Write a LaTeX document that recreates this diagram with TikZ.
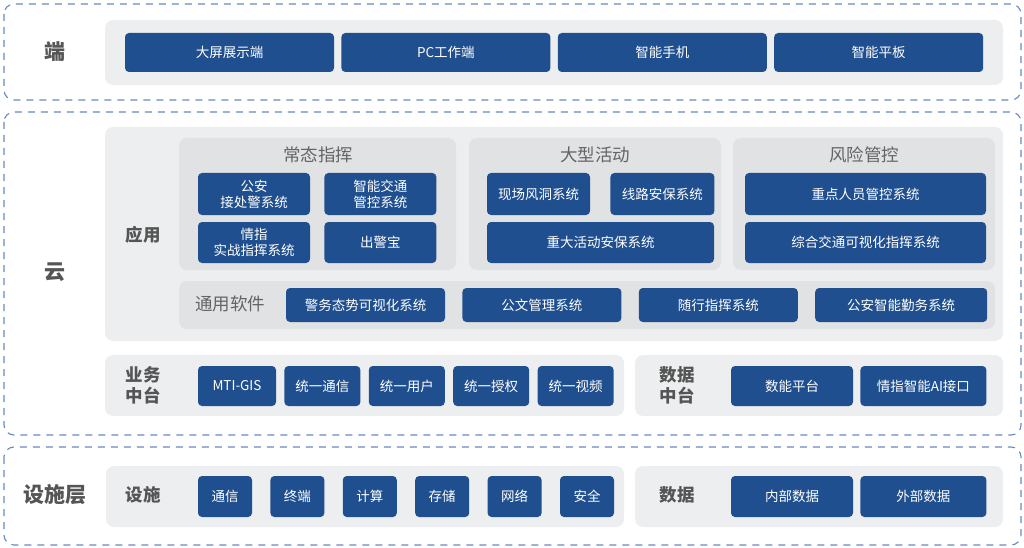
\documentclass[tikz,border=0pt]{standalone}
\usepackage{fontspec}
\setmainfont{Noto Sans CJK SC}
\usepackage{tikz}
\usetikzlibrary{positioning}
\definecolor{boxblue}{RGB}{31,79,143}
\definecolor{panelgray}{RGB}{236,238,240}
\definecolor{subgray}{RGB}{225,226,228}
\definecolor{frameblue}{RGB}{104,136,194}
\definecolor{labelgray}{RGB}{85,85,85}
\definecolor{titlegray}{RGB}{100,100,100}

\begin{document}
\begin{tikzpicture}[
    x=1pt, y=-1pt,
    box/.style={
        rectangle, rounded corners=4pt, fill=boxblue, text=white,
        inner sep=0pt, minimum height=40pt, align=center,
        font=\fontsize{13.5}{16}\selectfont
    },
    panel/.style={fill=panelgray, rounded corners=8pt},
    subpanel/.style={fill=subgray, rounded corners=8pt},
    frame/.style={
        draw=frameblue, dash pattern=on 7pt off 6pt, line width=1.1pt, rounded corners=10pt
    },
    layer/.style={text=labelgray, font=\fontsize{21}{24}\selectfont\bfseries},
    tag/.style={text=labelgray, align=center, font=\fontsize{17.5}{21}\selectfont\bfseries},
    title/.style={text=titlegray, font=\fontsize{17.5}{21}\selectfont}
]
\useasboundingbox (0,0) rectangle (1024,548);

% Dashed layer frames
\draw[frame] (4,4) rectangle (1021,100);
\draw[frame] (4,112) rectangle (1021,435);
\draw[frame] (4,447) rectangle (1021,545);

% Gray panels
\fill[panel] (105,20) rectangle (1003,85);
\fill[panel] (105,127) rectangle (1003,341);
\fill[subpanel] (179,138) rectangle (456,270);
\fill[subpanel] (469,138) rectangle (721,270);
\fill[subpanel] (733,138) rectangle (995,270);
\fill[subpanel] (179,281) rectangle (995,329);
\fill[panel] (105,355) rectangle (624,416);
\fill[panel] (635,355) rectangle (1003,416);
\fill[panel] (106,466) rectangle (624,527);
\fill[panel] (635,466) rectangle (1003,527);

% Layer labels
\node[layer] (duan) at (55,52) {端};
\node[layer] (yun) at (55,272) {云};
\node[layer] (sheshiceng) at (55,495) {设施层};

% Top level
\node[box, minimum width=209pt, minimum height=39pt] (daping) at (229.5,52.5) {大屏展示端};
\node[box, minimum width=209pt, minimum height=39pt, right=7pt of daping] (pcduan) {PC工作端};
\node[box, minimum width=209pt, minimum height=39pt, right=7pt of pcduan] (shouji) {智能手机};
\node[box, minimum width=209pt, minimum height=39pt, right=7pt of shouji] (pingban) {智能平板};

% Application panel
\node[tag] (yingyong) at (143,235) {应用};
\node[title] (changtai) at (318,155) {常态指挥};
\node[title] (dahuodong) at (595,155) {大型活动};
\node[title] (fengxian) at (864,155) {风险管控};

\node[box, minimum width=112pt, minimum height=42pt] (jiechujing) at (254,194) {公安\\接处警系统};
\node[box, minimum width=112pt, minimum height=42pt, right=14pt of jiechujing] (jiaotong) {智能交通\\管控系统};
\node[box, minimum width=112pt, minimum height=41pt] (qingzhi) at (254,242.5) {情指\\实战指挥系统};
\node[box, minimum width=112pt, minimum height=41pt, right=14pt of qingzhi] (chujingbao) {出警宝};

\node[box, minimum width=103pt, minimum height=42pt] (fengdong) at (538.5,194) {现场风洞系统};
\node[box, minimum width=104pt, minimum height=42pt, right=20pt of fengdong] (xianlu) {线路安保系统};
\node[box, minimum width=227pt, minimum height=41pt] (zhongda) at (600.5,242.5) {重大活动安保系统};

\node[box, minimum width=241pt, minimum height=42pt] (zhongdian) at (865.5,194) {重点人员管控系统};
\node[box, minimum width=241pt, minimum height=41pt] (zonghe) at (865.5,242.5) {综合交通可视化指挥系统};

% Common software
\node[title] (tongyong) at (230,304) {通用软件};
\node[box, minimum width=159pt, minimum height=34pt] (jingwu) at (365.5,305) {警务态势可视化系统};
\node[box, minimum width=159pt, minimum height=34pt, right=17pt of jingwu] (gongwen) {公文管理系统};
\node[box, minimum width=159pt, minimum height=34pt, right=17pt of gongwen] (suixing) {随行指挥系统};
\node[box, minimum width=172pt, minimum height=34pt, right=17pt of suixing] (qinwu) {公安智能勤务系统};

% Business middle platform
\node[tag] (yewu) at (143,385) {业务\\中台};
\node[box, minimum width=78pt] (mtigis) at (237,386) {MTI-GIS};
\node[box, minimum width=76pt, right=8pt of mtigis] (tongxin) {统一通信};
\node[box, minimum width=76pt, right=8pt of tongxin] (yonghu) {统一用户};
\node[box, minimum width=76pt, right=8pt of yonghu] (shouquan) {统一授权};
\node[box, minimum width=76pt, right=8pt of shouquan] (shipin) {统一视频};

% Data middle platform
\node[tag] (shuju) at (677,385) {数据\\中台};
\node[box, minimum width=122pt] (shuneng) at (792,386) {数能平台};
\node[box, minimum width=126pt, right=7pt of shuneng] (aijiekou) {情指智能AI接口};

% Facilities
\node[tag] (sheshi) at (143,495) {设施};
\node[box, minimum width=54pt, minimum height=41pt] (txin) at (225,496.5) {通信};
\node[box, minimum width=54pt, minimum height=41pt, right=18pt of txin] (zhongduan) {终端};
\node[box, minimum width=54pt, minimum height=41pt, right=18pt of zhongduan] (jisuan) {计算};
\node[box, minimum width=54pt, minimum height=41pt, right=18pt of jisuan] (cunchu) {存储};
\node[box, minimum width=54pt, minimum height=41pt, right=18pt of cunchu] (wangluo) {网络};
\node[box, minimum width=54pt, minimum height=41pt, right=18pt of wangluo] (anquan) {安全};

% Data
\node[tag] (shujutag) at (677,495) {数据};
\node[box, minimum width=122pt, minimum height=41pt] (neibu) at (792,496.5) {内部数据};
\node[box, minimum width=126pt, minimum height=41pt, right=7pt of neibu] (waibu) {外部数据};

\end{tikzpicture}
\end{document}
